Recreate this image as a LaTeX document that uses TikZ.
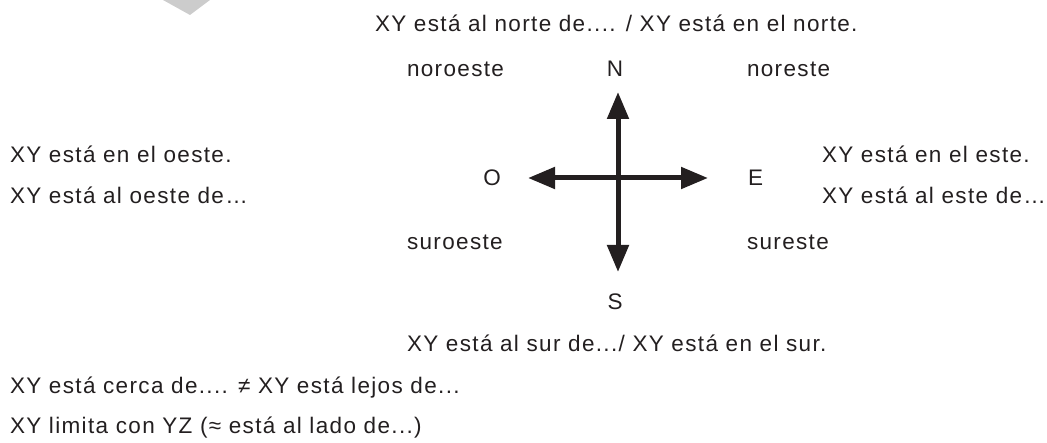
\documentclass[tikz,border=0pt]{standalone}
\usepackage{fontspec}
\setmainfont{Liberation Sans}[LetterSpace=6]
\usetikzlibrary{arrows.meta}
\definecolor{ink}{HTML}{231F20}
\definecolor{chev}{HTML}{CCCCCC}
\begin{document}
\begin{tikzpicture}[x=1pt,y=-1pt,
  lbl/.style={inner sep=0pt,outer sep=0pt,text=ink,font=\fontsize{22.5}{26}\selectfont},
  arr/.style={draw=ink,line width=5pt,-{Triangle[length=27pt,width=21pt]}}]
\useasboundingbox (0,0) rectangle (1047,443);
\fill[chev] (163,0) -- (190,15) -- (210,0) -- cycle;
% compass
\coordinate (c) at (618,178);
\coordinate (tn) at (618,92);
\coordinate (ts) at (618,272);
\coordinate (tw) at (528,178);
\coordinate (te) at (708,178);
\draw[arr] (c) -- (tn);
\draw[arr] (c) -- (ts);
\draw[arr] (c) -- (tw);
\draw[arr] (c) -- (te);
% texts
\node[lbl,anchor=base west] (top) at (375,32) {XY está al norte de.... / XY está en el norte.};
\node[lbl,anchor=base west] (nw) at (407,77) {noroeste};
\node[lbl,anchor=base] (N) at (615,77) {N};
\node[lbl,anchor=base west] (ne) at (747,77) {noreste};
\node[lbl,anchor=base west] (w1) at (10,163) {XY está en el oeste.};
\node[lbl,anchor=base west] (w2) at (10,204) {XY está al oeste de…};
\node[lbl,anchor=base west] (e1) at (822,163) {XY está en el este.};
\node[lbl,anchor=base west] (e2) at (822,204) {XY está al este de…};
\node[lbl,anchor=base] (O) at (492,186) {O};
\node[lbl,anchor=base west] (E) at (748,186) {E};
\node[lbl,anchor=base west] (sw) at (407,250) {suroeste};
\node[lbl,anchor=base west] (se) at (747,250) {sureste};
\node[lbl,anchor=base] (S) at (615,310) {S};
\node[lbl,anchor=base west] (bot) at (407,352) {XY está al sur de.../ XY está en el sur.};
\node[lbl,anchor=base west] (cerca) at (10,394) {XY está cerca de.... ≠ XY está lejos de...};
\node[lbl,anchor=base west] (lim) at (10,434) {XY limita con YZ (≈ está al lado de...)};
\end{tikzpicture}
\end{document}
